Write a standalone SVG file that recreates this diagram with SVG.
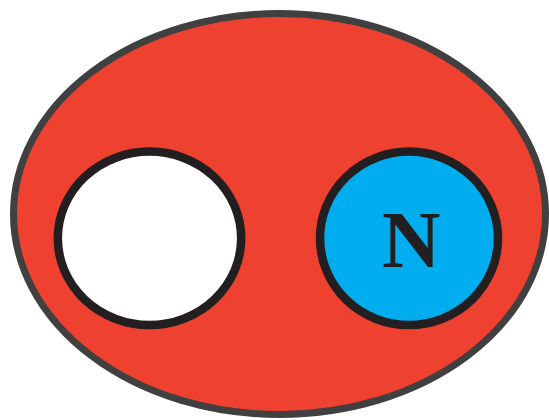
<svg xmlns="http://www.w3.org/2000/svg" width="549" height="420" viewBox="0 0 549 420">
<style>
.inner{stroke:#231f20;stroke-width:8.5}
.lbl{font-family:"Liberation Serif","Times New Roman",serif;font-weight:bold;fill:#231f20;text-anchor:middle}
</style>
<rect width="549" height="420" fill="#ffffff"/>
<g id="outer">
<ellipse cx="279.5" cy="214" rx="266" ry="200.5" fill="#ef4130" stroke="#404040" stroke-width="7"/>
</g>
<g id="left-circle">
<ellipse class="inner" cx="149.5" cy="238.3" rx="91.7" ry="86.7" fill="#ffffff"/>
</g>
<g id="n-circle">
<ellipse class="inner" cx="409" cy="238.3" rx="89" ry="86.7" fill="#00aeef"/>
<text class="lbl" x="411.3" y="266.7" font-size="81">N</text>
</g>
<g id="connectors"/>
</svg>
